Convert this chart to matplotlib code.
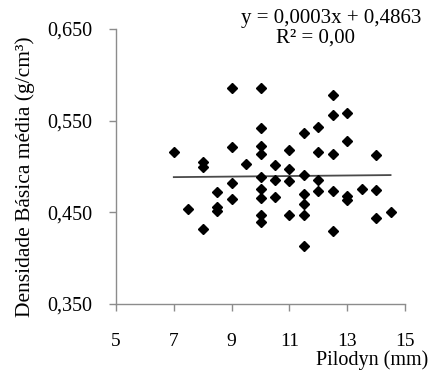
import matplotlib
matplotlib.use("Agg")
import matplotlib.pyplot as plt
import numpy as np

plt.rcParams['font.family'] = ['Liberation Serif', 'DejaVu Serif']

# Pilodyn (mm) values and basic density (g/cm3)
pilodyn = [7.0, 7.5,
           8.0, 8.0, 8.0,
           8.5, 8.5, 8.5,
           9.0, 9.0, 9.0, 9.0,
           9.5,
           10.0, 10.0, 10.0, 10.0, 10.0, 10.0, 10.0, 10.0, 10.0,
           10.5, 10.5, 10.5,
           11.0, 11.0, 11.0, 11.0,
           11.5, 11.5, 11.5, 11.5, 11.5, 11.5,
           12.0, 12.0, 12.0, 12.0,
           12.5, 12.5, 12.5, 12.5, 12.5,
           13.0, 13.0, 13.0, 13.0,
           13.5,
           14.0, 14.0, 14.0,
           14.5]
densidade = [0.516, 0.454,
             0.505, 0.499, 0.432,
             0.472, 0.456, 0.451,
             0.586, 0.521, 0.482, 0.465,
             0.503,
             0.586, 0.542, 0.522, 0.514, 0.489, 0.475, 0.466, 0.447, 0.440,
             0.502, 0.485, 0.467,
             0.518, 0.497, 0.484, 0.447,
             0.536, 0.491, 0.470, 0.459, 0.447, 0.413,
             0.543, 0.516, 0.485, 0.473,
             0.578, 0.556, 0.514, 0.473, 0.430,
             0.558, 0.528, 0.468, 0.464,
             0.476,
             0.513, 0.474, 0.444,
             0.450]

slope = 0.0003
intercept = 0.4863
equation_text = "y = 0,0003x + 0,4863"
r2_text = "R² = 0,00"

x_ticks = [5, 7, 9, 11, 13, 15]
y_ticks = [0.350, 0.450, 0.550, 0.650]
y_tick_labels = ["0,350", "0,450", "0,550", "0,650"]

fig = plt.figure(figsize=(4.30, 3.71), dpi=100)
ax = fig.add_axes([116/430, 1 - 304/371, (405 - 116)/430, (304 - 29)/371])

ax.plot(pilodyn, densidade, linestyle='none', marker='D', markersize=5.0,
        color='black', markeredgecolor='black', zorder=3, clip_on=False)

xl = np.array([min(pilodyn), max(pilodyn)])
ax.plot(xl, slope * xl + intercept, color='#4a4a4a', linewidth=1.3, zorder=2)

ax.set_xlim(5, 15)
ax.set_ylim(0.350, 0.650)
ax.set_xticks(x_ticks)
ax.set_xticklabels([str(t) for t in x_ticks])
ax.set_yticks(y_ticks)
ax.set_yticklabels(y_tick_labels)

for s in ['top', 'right']:
    ax.spines[s].set_visible(False)
for s in ['left', 'bottom']:
    ax.spines[s].set_color('#8c8c8c')
    ax.spines[s].set_linewidth(1.0)

ax.tick_params(axis='x', direction='out', length=5, width=1.0, color='#8c8c8c',
               pad=16, labelsize=14)
ax.tick_params(axis='y', direction='out', length=5, width=1.0, color='#8c8c8c',
               pad=12, labelsize=14.5)

fig.text(428/430, 1 - 365/371, "Pilodyn (mm)", ha='right', va='baseline', fontsize=14.5)
fig.text(25/430, 1 - 177/371, "Densidade Básica média (g/cm³)", rotation=90,
         ha='center', va='center', fontsize=15.5)

fig.text(331/430, 1 - 18/371, equation_text, ha='center', va='center', fontsize=15)
fig.text(315/430, 1 - 38/371, r2_text, ha='center', va='center', fontsize=15)

fig.savefig("out.png", dpi=100)
